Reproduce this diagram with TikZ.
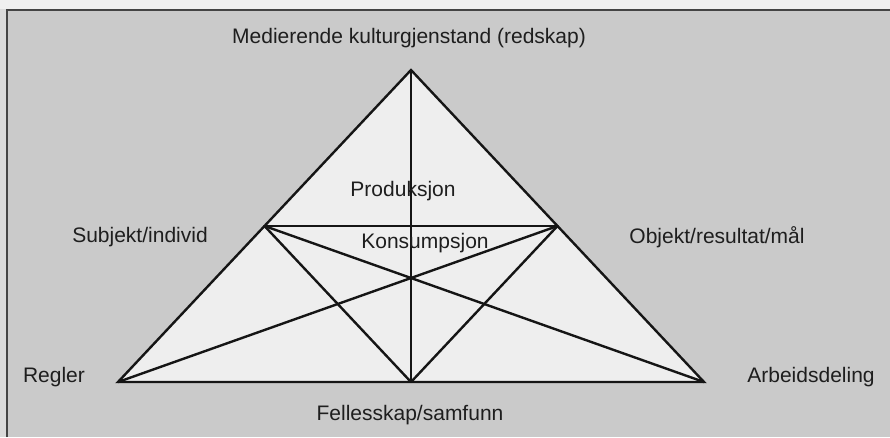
\documentclass[tikz,border=0pt]{standalone}
\usepackage{fontspec}
\setmainfont{Liberation Sans}
\usetikzlibrary{calc}
\definecolor{paper}{HTML}{CACACA}
\definecolor{topstrip}{HTML}{F0F0F0}
\definecolor{leftstrip}{HTML}{DADADA}
\definecolor{inner}{HTML}{EEEEEE}
\definecolor{ink}{HTML}{151515}
\definecolor{txt}{HTML}{1E1E1E}
\tikzset{
  frameline/.style={draw=ink!80, line width=1.8pt},
  edge/.style={draw=ink, line width=2.4pt, line join=miter, line cap=round},
  lbl/.style={anchor=base, inner sep=0pt, text=txt, font=\fontsize{21}{25}\selectfont}
}
\begin{document}
\begin{tikzpicture}[x=1pt,y=-1pt]
\useasboundingbox (0,0) rectangle (890,437);
% scanned page background
\fill[paper] (0,0) rectangle (890,437);
\fill[topstrip] (0,0) rectangle (890,9);
\fill[leftstrip] (0,9) rectangle (7,437);
\draw[frameline] (7,437) -- (7,10) -- (890,10);
% vertices
\coordinate (A) at (411,70);
\coordinate (R) at (118,382);
\coordinate (W) at (704,382);
\coordinate (S) at ($(A)!0.5!(R)$);
\coordinate (O) at ($(A)!0.5!(W)$);
\coordinate (F) at ($(R)!0.5!(W)$);
% interior
\fill[inner] (A) -- (R) -- (W) -- cycle;
% connectors
\draw[edge] (A) -- (R) -- (W) -- cycle;
\draw[edge] (S) -- (O);
\draw[edge] (A) -- (F);
\draw[edge] (S) -- (F);
\draw[edge] (O) -- (F);
\draw[edge] (S) -- (W);
\draw[edge] (O) -- (R);
% labels
\node[lbl] (med) at (409,43) {Medierende kulturgjenstand (redskap)};
\node[lbl] (prod) at (403,196) {Produksjon};
\node[lbl] (kons) at (425,248) {Konsumpsjon};
\node[lbl] (subj) at (140,242) {Subjekt/individ};
\node[lbl] (obj) at (717,243) {Objekt/resultat/mål};
\node[lbl] (reg) at (54,382) {Regler};
\node[lbl] (arb) at (811,382) {Arbeidsdeling};
\node[lbl] (fell) at (410,420) {Fellesskap/samfunn};
\end{tikzpicture}
\end{document}
